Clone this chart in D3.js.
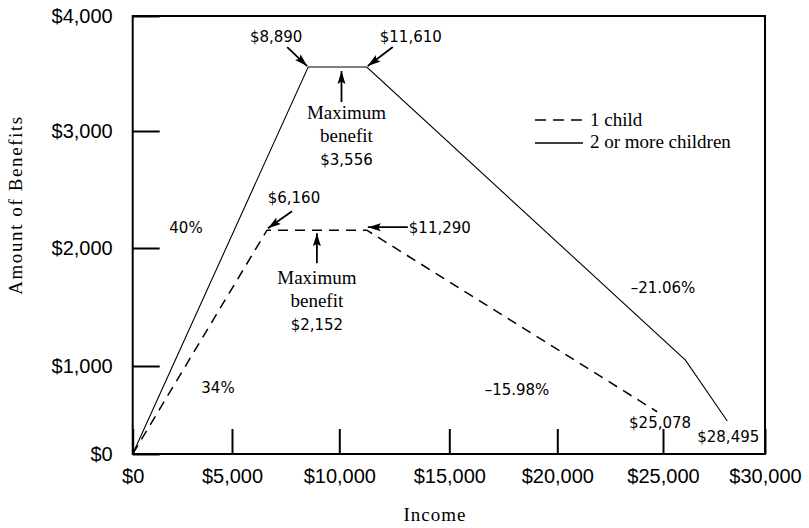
<!DOCTYPE html>
<html>
<head>
<meta charset="utf-8">
<script src="https://cdn.jsdelivr.net/npm/d3@7"></script>
<style>
  html, body { margin: 0; padding: 0; background: #fff; }
  svg { display: block; }
  .num { font-family: "DejaVu Sans", sans-serif; font-size: 15px; fill: #000; }
  .ser { font-family: "Liberation Serif", "Times New Roman", serif; font-size: 19px; fill: #000; }
  .tick text { font-family: "Liberation Sans", Arial, sans-serif; font-size: 20px; fill: #000; }
</style>
</head>
<body>
<svg id="chart" width="809" height="528"></svg>
<script>
// ---------- data ----------
const incomeTicks = [0, 5000, 10000, 15000, 20000, 25000, 30000];
const benefitTicks = [0, 1000, 2000, 3000, 4000];
const seriesNames = ["1 child", "2 or more children"];
// 1 child (vertices)
const oneChildIncome  = [0, 6630, 11250, 24720];
const oneChildBenefit = [0, 2152, 2152, 480];
// 2 or more children
const twoPlusIncome  = [0, 8550, 11250, 26100, 28150];
const twoPlusBenefit = [0, 3556, 3556, 1050, 375];
// labels
const twoPlusLabels = { left: "$8,890", right: "$11,610", max: "$3,556", end: "$28,495", rateUp: "40%", rateDown: "\u201321.06%" };
const oneChildLabels = { left: "$6,160", right: "$11,290", max: "$2,152", end: "$25,078", rateUp: "34%", rateDown: "\u201315.98%" };

// ---------- layout ----------
const xTickPx = [132.7, 232, 339.3, 449.3, 557.3, 663, 765];
const yTickPx = [454, 366, 248, 131, 16];

const svg = d3.select("#chart");
const x = d3.scaleLinear().domain(incomeTicks).range(xTickPx);
const y = d3.scaleLinear().domain(benefitTicks).range(yTickPx);
const fmt = v => "$" + d3.format(",")(v);

// arrow marker
svg.append("defs").append("marker")
  .attr("id", "ah").attr("viewBox", "0 0 13 9")
  .attr("refX", 13).attr("refY", 4.5)
  .attr("markerWidth", 13).attr("markerHeight", 9)
  .attr("markerUnits", "userSpaceOnUse").attr("orient", "auto")
  .append("path").attr("d", "M0,0.5 L13,4.5 L0,8.5 L2.5,4.5 Z").attr("fill", "#000");

// axes
const gx = svg.append("g").attr("transform", `translate(0,${y(0)})`)
  .call(d3.axisBottom(x).tickValues(incomeTicks).tickFormat(fmt).tickSize(-25).tickSizeOuter(0).tickPadding(15));
const gy = svg.append("g").attr("transform", `translate(${x(0)},0)`)
  .call(d3.axisLeft(y).tickValues(benefitTicks).tickFormat(fmt).tickSize(-27).tickSizeOuter(0).tickPadding(20));
[gx, gy].forEach(g => {
  g.select(".domain").remove();
  g.selectAll(".tick line").attr("stroke", "#000").attr("stroke-width", 2);
});

// frame
svg.append("rect")
  .attr("x", x(0)).attr("y", y(4000))
  .attr("width", x(30000) - x(0)).attr("height", y(0) - y(4000))
  .attr("fill", "none").attr("stroke", "#000").attr("stroke-width", 2);

// lines
const line = d3.line().x(d => x(d[0])).y(d => y(d[1]));
const oneChild = oneChildIncome.map((v, i) => [v, oneChildBenefit[i]]);
const twoPlus = twoPlusIncome.map((v, i) => [v, twoPlusBenefit[i]]);

svg.append("path").datum(twoPlus).attr("d", line)
  .attr("fill", "none").attr("stroke", "#000").attr("stroke-width", 1.1);
svg.append("path").datum(oneChild).attr("d", line)
  .attr("fill", "none").attr("stroke", "#000").attr("stroke-width", 1.5)
  .attr("stroke-dasharray", "10,7");

// annotation helpers
function arrow(x1, y1, x2, y2) {
  svg.append("line").attr("x1", x1).attr("y1", y1).attr("x2", x2).attr("y2", y2)
    .attr("stroke", "#000").attr("stroke-width", 1.8).attr("marker-end", "url(#ah)");
}
function text(cls, tx, ty, s, anchor) {
  svg.append("text").attr("class", cls).attr("x", tx).attr("y", ty)
    .attr("text-anchor", anchor || "middle").text(s);
}

// 2+ children annotations
const a2 = [x(twoPlusIncome[1]), y(twoPlusBenefit[1])];
const b2 = [x(twoPlusIncome[2]), y(twoPlusBenefit[2])];
const e2 = [x(twoPlusIncome[4]), y(twoPlusBenefit[4])];
text("num", a2[0] - 32, a2[1] - 25, twoPlusLabels.left);
arrow(a2[0] - 21, a2[1] - 20, a2[0] - 1, a2[1] - 1);
text("num", b2[0] + 44, b2[1] - 25, twoPlusLabels.right);
arrow(b2[0] + 26, b2[1] - 20, b2[0] + 1, b2[1] - 1);
const m2 = (a2[0] + b2[0]) / 2 + 4;
arrow(m2, a2[1] + 35, m2, a2[1] + 4);
text("ser", m2 + 5, a2[1] + 52, "Maximum");
text("ser", m2 + 5, a2[1] + 75, "benefit");
text("num", m2 + 5, a2[1] + 98, twoPlusLabels.max);
text("num", e2[0] + 1, e2[1] + 21, twoPlusLabels.end);
text("num", 186, 233, twoPlusLabels.rateUp);
text("num", 663, 293, twoPlusLabels.rateDown);

// 1 child annotations
const a1 = [x(oneChildIncome[1]), y(oneChildBenefit[1])];
const b1 = [x(oneChildIncome[2]), y(oneChildBenefit[2])];
const e1 = [x(oneChildIncome[3]), y(oneChildBenefit[3])];
text("num", a1[0] + 27, a1[1] - 27, oneChildLabels.left);
arrow(a1[0] + 25, a1[1] - 19, a1[0] + 1, a1[1] - 2);
text("num", b1[0] + 42, b1[1] + 3, oneChildLabels.right, "start");
arrow(b1[0] + 41, b1[1] - 3, b1[0] + 1, b1[1] - 3);
const m1 = (a1[0] + b1[0]) / 2;
arrow(m1, a1[1] + 33, m1, a1[1] + 3);
text("ser", m1, a1[1] + 54, "Maximum");
text("ser", m1, a1[1] + 77, "benefit");
text("num", m1, a1[1] + 100, oneChildLabels.max);
text("num", e1[0] + 3, e1[1] + 16, oneChildLabels.end);
text("num", 218, 393, oneChildLabels.rateUp);
text("num", 517, 395, oneChildLabels.rateDown);

// legend
const lg = svg.append("g").attr("transform", "translate(535,120)");
lg.append("line").attr("x1", 0).attr("x2", 48).attr("y1", 0).attr("y2", 0)
  .attr("stroke", "#000").attr("stroke-width", 1.5).attr("stroke-dasharray", "11,7");
lg.append("line").attr("x1", 0).attr("x2", 48).attr("y1", 23).attr("y2", 23)
  .attr("stroke", "#000").attr("stroke-width", 1.3);
lg.append("text").attr("class", "ser").attr("x", 55).attr("y", 6).text(seriesNames[0]);
lg.append("text").attr("class", "ser").attr("x", 55).attr("y", 28).text(seriesNames[1]);

// axis titles
svg.append("text").attr("class", "ser").attr("x", 435).attr("y", 521)
  .attr("text-anchor", "middle").style("letter-spacing", "1px").text("Income");
svg.append("text").attr("class", "ser").attr("text-anchor", "middle")
  .style("letter-spacing", "1.6px")
  .attr("transform", "translate(22,205) rotate(-90)").text("Amount of Benefits");
</script>
</body>
</html>
